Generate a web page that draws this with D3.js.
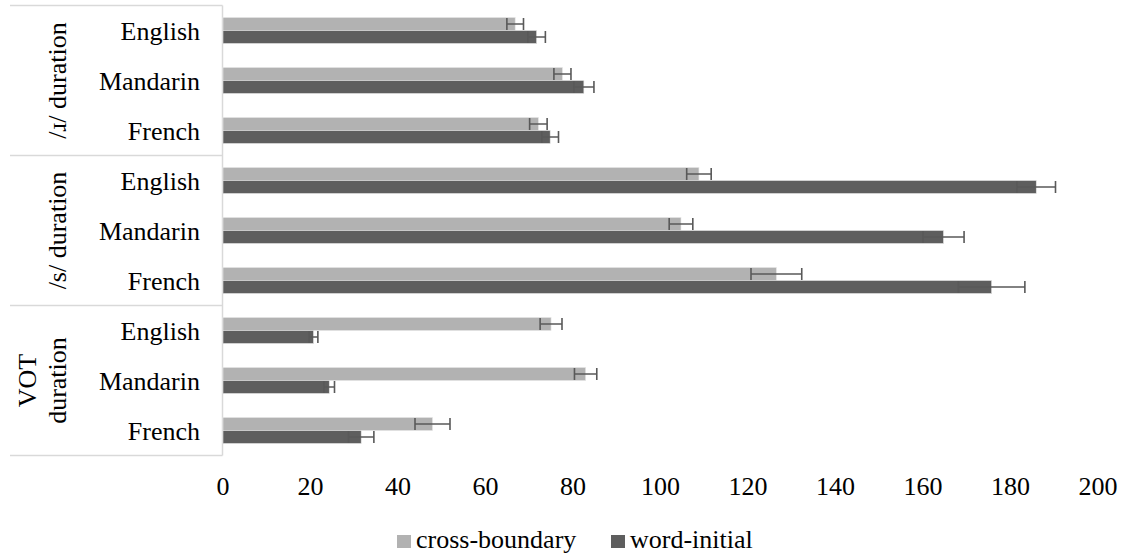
<!DOCTYPE html>
<html>

<head>
    <meta charset="UTF-8">
    <title>Durations</title>
    <style>
        body {
            margin: 0;
            background: #fff;
        }

        .axis path,
        .axis line {
            display: none;
        }

        .grid-line {
            stroke: #d9d9d9;
            stroke-width: 1.5px;
        }

        .err {
            stroke: #595959;
            stroke-width: 1.6px;
            fill: none;
        }
    </style>
</head>

<body>
    <div class="chart"></div>

    <script src="https://cdn.jsdelivr.net/npm/d3@7"></script>

    <script>
        // groups and languages (top to bottom)
        const groups = ['/\u0279/ duration', '/s/ duration', 'VOT duration'];
        const languages = ['English', 'Mandarin', 'French'];

        // series
        const series = ['cross-boundary', 'word-initial'];
        const colors = ['#b2b2b2', '#5e5e5e'];

        // means, one array per series, in group/language order
        const crossBoundary = [66.9, 77.7, 72.2, 108.9, 104.8, 126.6, 75.1, 83.0, 48.0];
        const wordInitial = [71.8, 82.6, 74.9, 186.0, 164.8, 175.8, 20.8, 24.4, 31.7];

        // error bar half widths
        const crossBoundaryErr = [1.9, 1.95, 2.0, 2.8, 2.7, 5.8, 2.5, 2.55, 4.0];
        const wordInitialErr = [2.0, 2.3, 1.9, 4.4, 4.7, 7.6, 1.0, 1.2, 2.9];

        const xTicks = [0, 20, 40, 60, 80, 100, 120, 140, 160, 180, 200];

        const width = 1123;
        const height = 556;
        const FONT = "'Times New Roman', 'Liberation Serif', 'DejaVu Serif', serif";

        const rows = [];
        groups.forEach((g, gi) => {
            languages.forEach((l, li) => {
                const i = gi * languages.length + li;
                rows.push({
                    id: i,
                    group: g,
                    language: l,
                    values: [
                        { key: series[0], v: crossBoundary[i], e: crossBoundaryErr[i] },
                        { key: series[1], v: wordInitial[i], e: wordInitialErr[i] }
                    ]
                });
            });
        });

        const x = d3.scaleLinear()
            .domain([0, 200])
            .range([222.5, 1097.5]);

        const y = d3.scaleBand()
            .domain(rows.map(d => d.id))
            .range([5.5, 455.5]);

        const yInner = d3.scaleBand()
            .domain(series)
            .range([y.bandwidth() / 2 - 13, y.bandwidth() / 2 + 13]);

        const color = d3.scaleOrdinal()
            .domain(series)
            .range(colors);

        const svg = d3.select('.chart')
            .append('svg')
            .attr('width', width)
            .attr('height', height)
            .attr('font-family', FONT)
            .attr('font-size', 26);

        // left table lines
        const seps = d3.range(groups.length + 1).map(i => y.range()[0] + i * languages.length * y.bandwidth());
        svg.append('g')
            .selectAll('line')
            .data(seps)
            .enter()
            .append('line')
            .attr('class', 'grid-line')
            .attr('x1', 10)
            .attr('x2', x(0))
            .attr('y1', d => d)
            .attr('y2', d => d);

        svg.append('line')
            .attr('class', 'grid-line')
            .attr('x1', x(0))
            .attr('x2', x(0))
            .attr('y1', y.range()[0])
            .attr('y2', y.range()[1]);

        // bars
        const rowG = svg.append('g')
            .selectAll('g')
            .data(rows)
            .enter()
            .append('g')
            .attr('transform', d => `translate(0,${ y(d.id) })`);

        rowG.selectAll('rect')
            .data(d => d.values)
            .enter()
            .append('rect')
            .attr('x', x(0) + 0.5)
            .attr('y', d => yInner(d.key))
            .attr('width', d => x(d.v) - x(0) - 0.5)
            .attr('height', yInner.bandwidth())
            .attr('fill', d => color(d.key))
            .attr('stroke', '#e6e6e6')
            .attr('stroke-width', 0.6);

        // error bars
        rowG.selectAll('.err')
            .data(d => d.values)
            .enter()
            .append('path')
            .attr('class', 'err')
            .attr('d', d => {
                const cy = yInner(d.key) + yInner.bandwidth() / 2;
                const x0 = x(d.v - d.e);
                const x1 = x(d.v + d.e);
                return `M${ x0 },${ cy - 6 }V${ cy + 6 }M${ x0 },${ cy }H${ x1 }M${ x1 },${ cy - 6 }V${ cy + 6 }`;
            });

        // category labels
        svg.append('g')
            .selectAll('text')
            .data(rows)
            .enter()
            .append('text')
            .style('font-family', FONT)
            .attr('x', 200)
            .attr('y', d => y(d.id) + y.bandwidth() / 2)
            .attr('dy', '0.35em')
            .attr('text-anchor', 'end')
            .text(d => d.language);

        // group labels (rotated)
        const groupG = svg.append('g')
            .selectAll('g')
            .data(groups)
            .enter()
            .append('g')
            .attr('transform', (d, i) => `translate(57,${ (seps[i] + seps[i + 1]) / 2 }) rotate(-90)`);

        groupG.each(function (d) {
            const parts = d === 'VOT duration' ? ['VOT', 'duration'] : [d];
            const g = d3.select(this);
            parts.forEach((p, k) => {
                g.append('text')
                    .style('font-family', FONT)
                    .attr('text-anchor', 'middle')
                    .attr('x', 0)
                    .attr('y', (k - (parts.length - 1)) * 30)
                    .attr('dy', '0.35em')
                    .text(p);
            });
        });

        // x axis
        const xAxisG = svg.append('g')
            .attr('class', 'axis')
            .attr('transform', `translate(0,${ y.range()[1] })`)
            .call(d3.axisBottom(x).tickValues(xTicks).tickSize(0).tickPadding(21));

        xAxisG.attr('font-family', FONT).attr('font-size', 26);
        xAxisG.selectAll('text')
            .style('font-family', FONT)
            .style('font-size', '26px')
            .attr('fill', '#000');

        // legend
        const legendX = [397, 611];
        const legend = svg.append('g')
            .selectAll('g')
            .data(series)
            .enter()
            .append('g')
            .attr('transform', (d, i) => `translate(${ legendX[i] },535)`);

        legend.append('rect')
            .attr('width', 14)
            .attr('height', 13)
            .attr('fill', d => color(d));

        legend.append('text')
            .style('font-family', FONT)
            .attr('x', 19)
            .attr('y', 13)
            .text(d => d);
    </script>
</body>

</html>
